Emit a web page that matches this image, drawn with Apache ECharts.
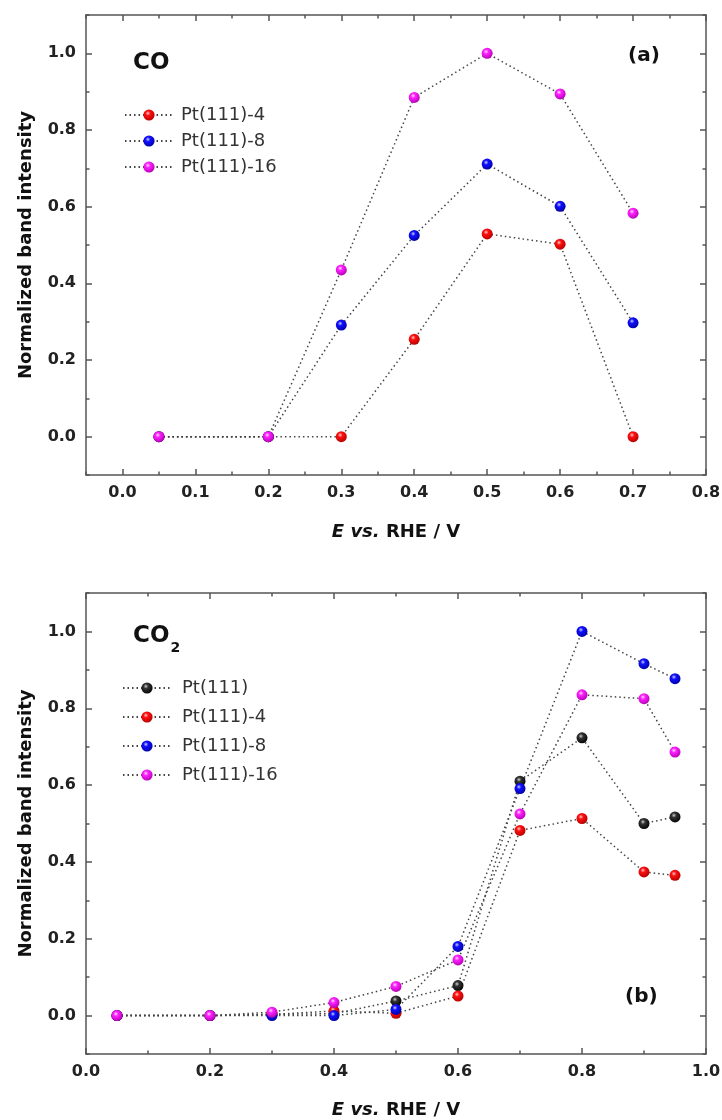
<!DOCTYPE html>
<html>
<head>
<meta charset="utf-8">
<script src="https://cdn.jsdelivr.net/npm/echarts@6/dist/echarts.min.js"></script>
<style>
  html, body { margin: 0; padding: 0; background: #fff; }
  #chart { width: 722px; height: 1120px; }
</style>
</head>
<body>
<div id="chart"></div>
<script>
// panel (a): CO
var xCO = [0.05, 0.2, 0.3, 0.4, 0.5, 0.6, 0.7]
var coPt4 = [0, 0, 0, 0.254, 0.529, 0.502, 0]
var coPt8 = [0, 0, 0.291, 0.525, 0.711, 0.601, 0.297]
var coPt16 = [0, 0, 0.435, 0.885, 1.0, 0.894, 0.583]

// panel (b): CO2
var xCO2 = [0.05, 0.2, 0.3, 0.4, 0.5, 0.6, 0.7, 0.8, 0.9, 0.95]
var co2Pt = [0, 0, 0.003, 0.005, 0.038, 0.078, 0.61, 0.723, 0.5, 0.517]
var co2Pt4 = [0, 0, 0.003, 0.012, 0.006, 0.051, 0.482, 0.513, 0.374, 0.365]
var co2Pt8 = [0, 0, 0, 0, 0.016, 0.18, 0.591, 1.0, 0.916, 0.877]
var co2Pt16 = [0, 0, 0.009, 0.034, 0.076, 0.145, 0.525, 0.835, 0.825, 0.686]

// tick labels
var xMajorA = [0, 0.1, 0.2, 0.3, 0.4, 0.5, 0.6, 0.7, 0.8]
var xMajorB = [0, 0.2, 0.4, 0.6, 0.8, 1.0]
var yMajor = [0, 0.2, 0.4, 0.6, 0.8, 1.0]

var FONT = 'DejaVu Sans'
var AXIS_COLOR = '#555'

function pair(xs, ys) {
  return xs.map(function (x, i) { return [x, ys[i]] })
}

function ball(light, mid, dark) {
  return {
    type: 'radial', x: 0.4, y: 0.35, r: 0.7,
    colorStops: [
      { offset: 0, color: light },
      { offset: 0.3, color: mid },
      { offset: 1, color: dark }
    ]
  }
}

var BALLS = {
  black: ball('#d0d0d0', '#333', '#000'),
  red: ball('#ffd0d0', '#ff1010', '#b00000'),
  blue: ball('#d0d0ff', '#1010ff', '#0000a0'),
  magenta: ball('#ffe0ff', '#ff20ff', '#b000b0')
}

// two axes per side: one with short ticks at every step, one with long ticks at majors
function sideAxes(grid, position, min, max, step, majors, labels, name, nameGap, isY) {
  var base = {
    type: 'value', gridIndex: grid, position: position,
    min: min, max: max, interval: step,
    splitLine: { show: false }
  }
  var main = Object.assign({}, base, {
    axisLine: { show: true, onZero: false, lineStyle: { color: AXIS_COLOR, width: 1.5 } },
    axisTick: { show: true, inside: true, length: 3.5, lineStyle: { color: AXIS_COLOR, width: 1.5 } },
    axisLabel: labels ? {
      show: true, customValues: majors, margin: 10,
      color: '#222', fontFamily: FONT, fontWeight: 'bold', fontSize: 16,
      formatter: function (v) { return v.toFixed(1) }
    } : { show: false }
  })
  if (name) {
    main.name = name
    main.nameLocation = 'middle'
    main.nameGap = nameGap
    main.nameTextStyle = isY ? {
      fontFamily: FONT, fontWeight: 'bold', fontSize: 18, color: '#111'
    } : {
      fontFamily: FONT, fontWeight: 'bold', fontSize: 18, color: '#111',
      rich: {
        i: { fontFamily: FONT, fontWeight: 'bold', fontStyle: 'italic', fontSize: 18, color: '#111' },
        b: { fontFamily: FONT, fontWeight: 'bold', fontSize: 18, color: '#111' }
      }
    }
  }
  var major = Object.assign({}, base, {
    axisLine: { show: false, onZero: false },
    axisTick: { show: true, inside: true, length: 6, customValues: majors, lineStyle: { color: AXIS_COLOR, width: 1.5 } },
    axisLabel: { show: false }
  })
  return [main, major]
}

var xName = '{i|E} {i|vs.} {b|RHE / V}'
var yName = 'Normalized band intensity'

var xAxes = [].concat(
  sideAxes(0, 'bottom', -0.05, 0.8, 0.05, xMajorA, true, xName, 48, false), // 0
  sideAxes(0, 'top', -0.05, 0.8, 0.05, xMajorA, false),                      // 2
  sideAxes(1, 'bottom', 0, 1.0, 0.1, xMajorB, true, xName, 47, false),      // 4
  sideAxes(1, 'top', 0, 1.0, 0.1, xMajorB, false)                            // 6
)
var yAxes = [].concat(
  sideAxes(0, 'left', -0.1, 1.1, 0.1, yMajor, true, yName, 51, true),       // 0
  sideAxes(0, 'right', -0.1, 1.1, 0.1, yMajor, false),                       // 2
  sideAxes(1, 'left', -0.1, 1.1, 0.1, yMajor, true, yName, 51, true),       // 4
  sideAxes(1, 'right', -0.1, 1.1, 0.1, yMajor, false)                        // 6
)

function line(name, data, color, xi, yi) {
  return {
    name: name, type: 'line', xAxisIndex: xi, yAxisIndex: yi,
    data: data, symbol: 'circle', symbolSize: 11, animation: false,
    lineStyle: { color: '#444', width: 1.5, type: [1.5, 3] },
    itemStyle: { color: BALLS[color] }
  }
}

var legendText = { fontFamily: FONT, fontSize: 18, color: '#333' }

var chart = echarts.init(document.getElementById('chart'))
chart.setOption({
  backgroundColor: '#fff',
  animation: false,
  grid: [
    { left: 86, top: 15, width: 620, height: 460, outerBoundsMode: 'none' },
    { left: 86, top: 593, width: 620, height: 461, outerBoundsMode: 'none' }
  ],
  xAxis: xAxes,
  yAxis: yAxes,
  legend: [
    {
      left: 124, top: 106, orient: 'vertical', padding: 0,
      itemWidth: 48, itemHeight: 14, itemGap: 8,
      textStyle: Object.assign({ padding: [0, 0, 0, 3] }, legendText),
      data: ['Pt(111)-4 ', 'Pt(111)-8 ', 'Pt(111)-16 ']
    },
    {
      left: 122, top: 679, orient: 'vertical', padding: 0,
      itemWidth: 48, itemHeight: 14, itemGap: 11,
      textStyle: Object.assign({ padding: [0, 0, 0, 6] }, legendText),
      data: ['Pt(111)', 'Pt(111)-4', 'Pt(111)-8', 'Pt(111)-16']
    }
  ],
  graphic: [
    { type: 'text', left: 133, top: 52, style: { text: 'CO', font: 'bold 23px ' + FONT, fill: '#111' } },
    { type: 'text', left: 628, top: 46, style: { text: '(a)', font: 'bold 20px ' + FONT, fill: '#111' } },
    {
      type: 'text', left: 133, top: 625,
      style: {
        text: '{a|CO}{s|2}', fill: '#111',
        rich: {
          a: { font: 'bold 23px ' + FONT, fill: '#111', verticalAlign: 'top' },
          s: { font: 'bold 14px ' + FONT, fill: '#111', padding: [16, 0, 0, 1] }
        }
      }
    },
    { type: 'text', left: 625, top: 987, style: { text: '(b)', font: 'bold 20px ' + FONT, fill: '#111' } }
  ],
  series: [
    // trailing space keeps the panel (a) legend separate from panel (b)
    line('Pt(111)-4 ', pair(xCO, coPt4), 'red', 0, 0),
    line('Pt(111)-8 ', pair(xCO, coPt8), 'blue', 0, 0),
    line('Pt(111)-16 ', pair(xCO, coPt16), 'magenta', 0, 0),
    line('Pt(111)', pair(xCO2, co2Pt), 'black', 4, 4),
    line('Pt(111)-4', pair(xCO2, co2Pt4), 'red', 4, 4),
    line('Pt(111)-8', pair(xCO2, co2Pt8), 'blue', 4, 4),
    line('Pt(111)-16', pair(xCO2, co2Pt16), 'magenta', 4, 4)
  ]
})
</script>
</body>
</html>
